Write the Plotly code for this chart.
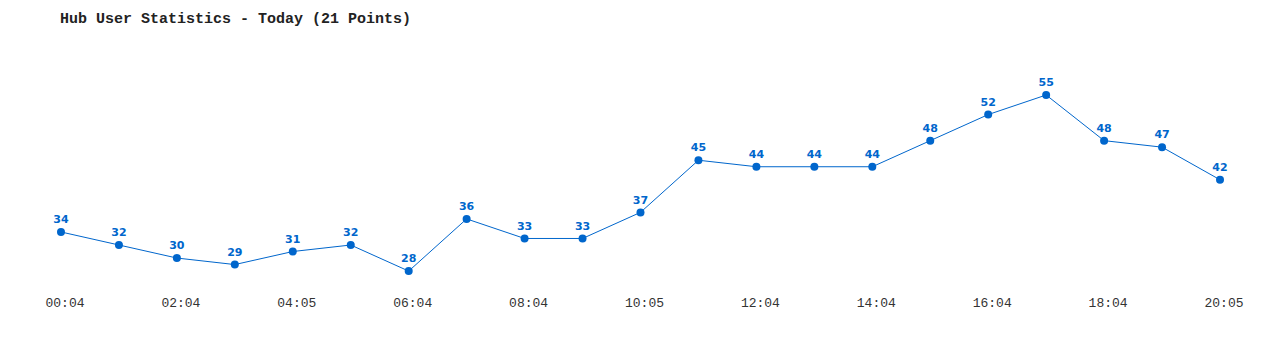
import plotly.graph_objects as go

times = ["00:04", "01:04", "02:04", "03:04", "04:05", "05:05", "06:04", "07:04",
         "08:04", "09:04", "10:05", "11:05", "12:04", "13:04", "14:04", "15:04",
         "16:04", "17:04", "18:04", "19:04", "20:05"]
users = [34, 32, 30, 29, 31, 32, 28, 36, 33, 33, 37, 45, 44, 44, 44, 48, 52, 55, 48, 47, 42]
tick_idx = list(range(0, 21, 2))
tick_labels = [times[i] for i in tick_idx]

blue = "#0066CC"
fig = go.Figure(go.Scatter(
    x=list(range(len(users))), y=users,
    mode="lines+markers+text",
    line=dict(color=blue, width=1),
    marker=dict(color=blue, size=8),
    text=[str(v) for v in users],
    textposition="top center",
    textfont=dict(family="DejaVu Sans", size=11, color=blue, weight="bold"),
    hovertext=times, hoverinfo="text+y",
))

fig.update_layout(
    width=1280, height=350,
    margin=dict(l=40, r=40, t=50, b=60),
    paper_bgcolor="white", plot_bgcolor="white",
    showlegend=False,
    title=dict(text="Hub User Statistics - Today (21 Points)", x=60/1280, xanchor="left",
               y=1 - 18/350, yanchor="middle",
               font=dict(family="Liberation Mono", size=15, color="#222222", weight="bold")),
    xaxis=dict(range=[-0.362, 20.345], tickvals=tick_idx, ticktext=tick_labels,
               showgrid=False, zeroline=False, showline=False, ticks="",
               ticklabelstandoff=3, ticklabelshift=4,
               tickfont=dict(family="Liberation Mono", size=13, color="#333333")),
    yaxis=dict(range=[25.1, 61.9], visible=False, showgrid=False, zeroline=False),
)

fig.write_html("out.html")
